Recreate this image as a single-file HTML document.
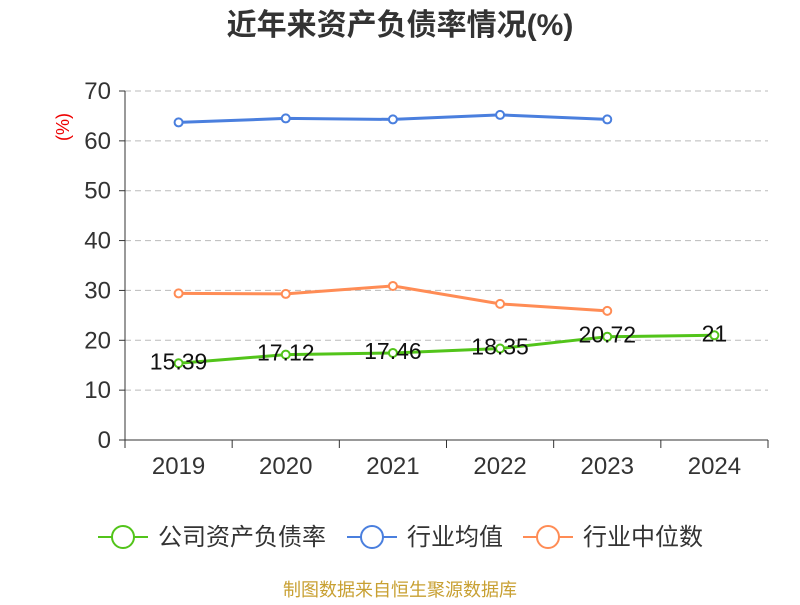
<!DOCTYPE html>
<html><head><meta charset="utf-8"><style>
body{margin:0;background:#fff;}
svg text{font-family:"Liberation Sans","Noto Sans CJK SC",sans-serif;}
</style></head><body>
<svg width="800" height="600" xmlns="http://www.w3.org/2000/svg" id="chart">
<text x="400" y="35" text-anchor="middle" font-size="30" font-weight="bold" fill="#333">近年来资产负债率情况(%)</text>
<text x="69" y="127" font-size="18" fill="#e00" transform="rotate(-90 69 127)" text-anchor="middle">(%)</text>
<g id="grid"></g><g id="axes"></g><g id="series"></g>
<g font-size="24" fill="#333">
<g><line x1="98" y1="537" x2="148" y2="537" stroke="#52c41a" stroke-width="2"/><circle cx="123" cy="537" r="11" fill="#fff" stroke="#52c41a" stroke-width="2"/><text x="158" y="545">公司资产负债率</text></g>
<g><line x1="347" y1="537" x2="397" y2="537" stroke="#4a7fde" stroke-width="2"/><circle cx="372" cy="537" r="11" fill="#fff" stroke="#4a7fde" stroke-width="2"/><text x="407" y="545">行业均值</text></g>
<g><line x1="523" y1="537" x2="573" y2="537" stroke="#ff8c55" stroke-width="2"/><circle cx="548" cy="537" r="11" fill="#fff" stroke="#ff8c55" stroke-width="2"/><text x="583" y="545">行业中位数</text></g>
</g>
<text x="400" y="596" text-anchor="middle" font-size="18" fill="#c8a032">制图数据来自恒生聚源数据库</text>
</svg>
<script>
const categories=["2019","2020","2021","2022","2023","2024"];
const companyValues=[15.39,17.12,17.46,18.35,20.72,21];
const companyLabels=["15.39","17.12","17.46","18.35","20.72","21"];
const industryAvg=[63.7,64.5,64.3,65.2,64.3];
const industryMedian=[29.4,29.3,30.9,27.3,25.9];
const yTicks=[0,10,20,30,40,50,60,70];
const NS="http://www.w3.org/2000/svg";
const x0=125,x1=768,yBase=440,yTop=91,yMax=70;
const band=(x1-x0)/categories.length;
const xPos=i=>x0+band*(i+0.5);
const yPos=v=>yBase-(v/yMax)*(yBase-yTop);
function mk(tag,attrs,parent){const e=document.createElementNS(NS,tag);for(const k in attrs)e.setAttribute(k,attrs[k]);parent.appendChild(e);return e;}
const grid=document.getElementById('grid'),axes=document.getElementById('axes'),ser=document.getElementById('series');
yTicks.forEach(t=>{
  const y=yPos(t);
  if(t>0){const g=mk('line',{x1:x0,x2:x1,y1:y,y2:y,stroke:'#bbb','stroke-dasharray':'6,4'},grid);
  
  }
  const tk=mk('line',{x1:x0-6,x2:x0,y1:y,y2:y,stroke:'#333'},axes);
  
  
  const tx=mk('text',{x:x0-14,y:y+8,'text-anchor':'end','font-size':24,fill:'#333'},axes);
  tx.textContent=t;
  
  
});
const ya=mk('line',{x1:x0,x2:x0,y1:yTop,y2:yBase,stroke:'#333'},axes);


const xa=mk('line',{x1:x0,x2:x1,y1:yBase,y2:yBase,stroke:'#333'},axes);


for(let i=0;i<=categories.length;i++){const x=x0+band*i;
  const tk=mk('line',{x1:x,x2:x,y1:yBase,y2:yBase+8,stroke:'#333'},axes);
  
  }
categories.forEach((c,i)=>{const t=mk('text',{x:xPos(i),y:yBase+34,'text-anchor':'middle','font-size':24,fill:'#333'},axes);t.textContent=c;
  
  });
function drawLine(vals,color,name){
  const p=mk('polyline',{points:vals.map((v,i)=>xPos(i)+','+yPos(v)).join(' '),fill:'none',stroke:color,'stroke-width':3},ser);
  
  
  vals.forEach((v,i)=>{const c=mk('circle',{cx:xPos(i),cy:yPos(v),r:4,fill:'#fff',stroke:color,'stroke-width':2},ser);
    
    });
}
drawLine(industryAvg,'#4a7fde','industry-avg');
drawLine(industryMedian,'#ff8c55','industry-median');
drawLine(companyValues,'#52c41a','company');
companyValues.forEach((v,i)=>{const t=mk('text',{x:xPos(i),y:yPos(v)+6,'text-anchor':'middle','font-size':23,fill:'#111'},ser);
  t.textContent=companyLabels[i];
  
  });
</script>
</body></html>
